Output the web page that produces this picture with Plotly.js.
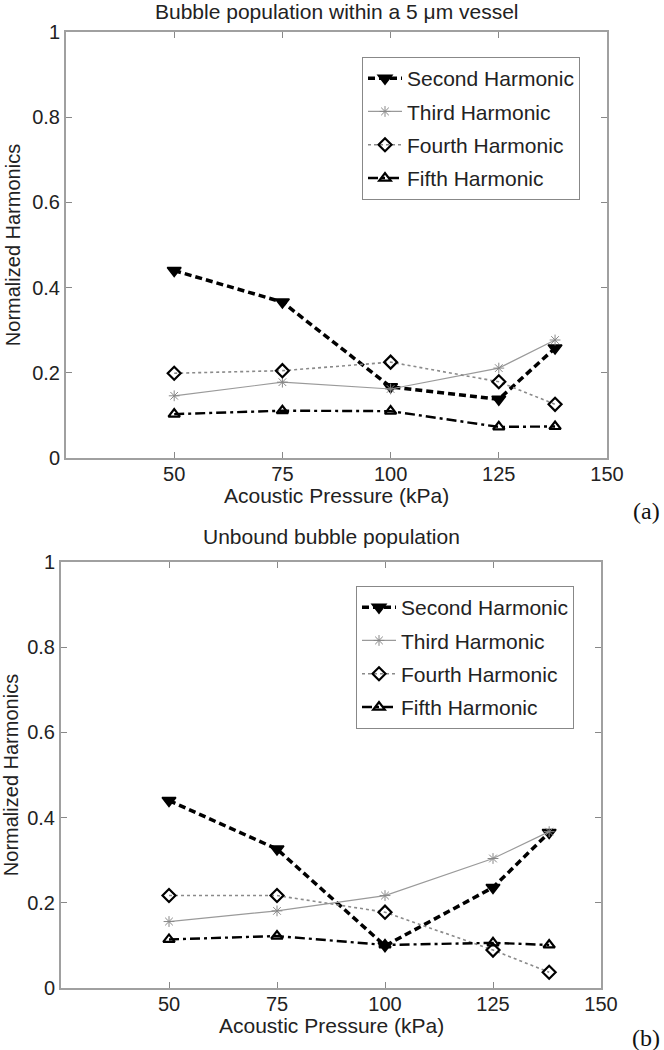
<!DOCTYPE html>
<html>
<head>
<meta charset="utf-8">
<script src="https://cdn.plot.ly/plotly-3.0.1.min.js"></script>
<style>html,body{margin:0;padding:0;background:#fff;}#chart{width:664px;height:1050px;}</style>
</head>
<body>
<div id="chart"></div>
<script>
// ---- data ----
const pressure = [50, 75, 100, 125, 138];
const seriesNames = ["Second Harmonic", "Third Harmonic", "Fourth Harmonic", "Fifth Harmonic"];

// (a) bubble population within a 5 um vessel
const vesselSecond = [0.440, 0.366, 0.167, 0.138, 0.258];
const vesselThird  = [0.146, 0.178, 0.162, 0.211, 0.277];
const vesselFourth = [0.199, 0.205, 0.225, 0.179, 0.126];
const vesselFifth  = [0.103, 0.111, 0.110, 0.073, 0.074];

// (b) unbound bubble population
const unboundSecond = [0.440, 0.326, 0.099, 0.236, 0.365];
const unboundThird  = [0.156, 0.181, 0.217, 0.304, 0.367];
const unboundFourth = [0.217, 0.217, 0.178, 0.089, 0.037];
const unboundFifth  = [0.114, 0.122, 0.101, 0.106, 0.101];

const xTicks = [50, 75, 100, 125, 150];
const yTicks = [0, 0.2, 0.4, 0.6, 0.8, 1];

const titleA = "Bubble population within a 5 μm vessel";
const titleB = "Unbound bubble population";
const xTitle = "Acoustic Pressure (kPa)";
const yTitle = "Normalized Harmonics";

// ---- styles ----
const FONT = "Liberation Sans, Arial, sans-serif";
const styles = [
  {line: {color: "#000", width: 3.5, dash: "7px,4px"},
   marker: {symbol: "triangle-down", size: 12, color: "#000", line: {color: "#000", width: 1.5}}},
  {line: {color: "#9a9a9a", width: 1.2, dash: "solid"},
   marker: {symbol: "asterisk-open", size: 9, color: "#888", line: {color: "#888", width: 1}}},
  {line: {color: "#8a8a8a", width: 1.6, dash: "dot"},
   marker: {symbol: "diamond-open", size: 10, color: "#000", line: {color: "#000", width: 2.2}}},
  {line: {color: "#000", width: 2.4, dash: "10px,4px,3px,4px"},
   marker: {symbol: "triangle-up-open", size: 10, color: "#000", line: {color: "#000", width: 2.2}}}
];

function makeTraces(ys, xa, ya, legendId) {
  return ys.map((y, i) => ({
    type: "scatter", mode: "lines+markers",
    x: pressure, y: y, name: seriesNames[i],
    xaxis: xa, yaxis: ya, legend: legendId,
    legendgroup: legendId + "g" + i,
    line: styles[i].line, marker: styles[i].marker
  }));
}

const traces = [
  ...makeTraces([vesselSecond, vesselThird, vesselFourth, vesselFifth], "x", "y", "legend"),
  ...makeTraces([unboundSecond, unboundThird, unboundFourth, unboundFifth], "x2", "y2", "legend2")
];

function xAxis(domain, anchor) {
  return {
    domain: domain, anchor: anchor, range: [25, 150], tickvals: xTicks,
    ticks: "inside", ticklen: 6, tickcolor: "#888", tickwidth: 1,
    showline: true, linecolor: "#a0a0a0", linewidth: 2, mirror: "ticks",
    showgrid: false, zeroline: false, ticklabelstandoff: -3,
    tickfont: {family: FONT, size: 20, color: "#222"},
    title: {text: ""}
  };
}
function yAxis(domain, anchor) {
  return {
    domain: domain, anchor: anchor, range: [0, 1], tickvals: yTicks,
    ticks: "inside", ticklen: 6, tickcolor: "#888", tickwidth: 1,
    showline: true, linecolor: "#a0a0a0", linewidth: 2, mirror: "ticks",
    showgrid: false, zeroline: false,
    tickfont: {family: FONT, size: 20, color: "#222"},
    title: {text: yTitle, font: {family: FONT, size: 20, color: "#222"}, standoff: 6}
  };
}
function legendBox(x, y) {
  return {
    x: x, y: y, xanchor: "left", yanchor: "top", xref: "paper", yref: "paper",
    bgcolor: "#fff", bordercolor: "#888", borderwidth: 1,
    font: {family: FONT, size: 21, color: "#222"},
    tracegroupgap: 3, itemwidth: 34
  };
}

const layout = {
  width: 664, height: 1050,
  margin: {l: 0, r: 0, t: 0, b: 0},
  paper_bgcolor: "#fff", plot_bgcolor: "#fff",
  showlegend: true,
  xaxis: xAxis([66/664, 607/664], "y"),
  yaxis: yAxis([1 - 458/1050, 1 - 32/1050], "x"),
  xaxis2: xAxis([61/664, 601/664], "y2"),
  yaxis2: yAxis([1 - 988/1050, 1 - 562/1050], "x2"),
  legend: legendBox(362/664, 1 - 57/1050),
  legend2: legendBox(356/664, 1 - 586/1050),
  annotations: [
    {text: titleA, xref: "paper", yref: "paper", x: (66 + 607) / 2 / 664, y: 1 - 11/1050,
     xanchor: "center", yanchor: "middle", showarrow: false,
     font: {family: FONT, size: 21, color: "#222"}},
    {text: titleB, xref: "paper", yref: "paper", x: (61 + 601) / 2 / 664, y: 1 - 536/1050,
     xanchor: "center", yanchor: "middle", showarrow: false,
     font: {family: FONT, size: 21, color: "#222"}},
    {text: xTitle, xref: "paper", yref: "paper", x: (66 + 607) / 2 / 664, y: 1 - 495/1050,
     xanchor: "center", yanchor: "middle", showarrow: false,
     font: {family: FONT, size: 21, color: "#222"}},
    {text: xTitle, xref: "paper", yref: "paper", x: (61 + 601) / 2 / 664, y: 1 - 1025/1050,
     xanchor: "center", yanchor: "middle", showarrow: false,
     font: {family: FONT, size: 21, color: "#222"}},
    {text: "(a)", xref: "paper", yref: "paper", x: 662/664, y: 1 - 511/1050,
     xanchor: "right", yanchor: "middle", showarrow: false,
     font: {family: "Liberation Serif, Times New Roman, serif", size: 24, color: "#111"}},
    {text: "(b)", xref: "paper", yref: "paper", x: 662/664, y: 1 - 1038/1050,
     xanchor: "right", yanchor: "middle", showarrow: false,
     font: {family: "Liberation Serif, Times New Roman, serif", size: 24, color: "#111"}}
  ]
};

Plotly.newPlot("chart", traces, layout, {displayModeBar: false, staticPlot: true});
</script>
</body>
</html>
